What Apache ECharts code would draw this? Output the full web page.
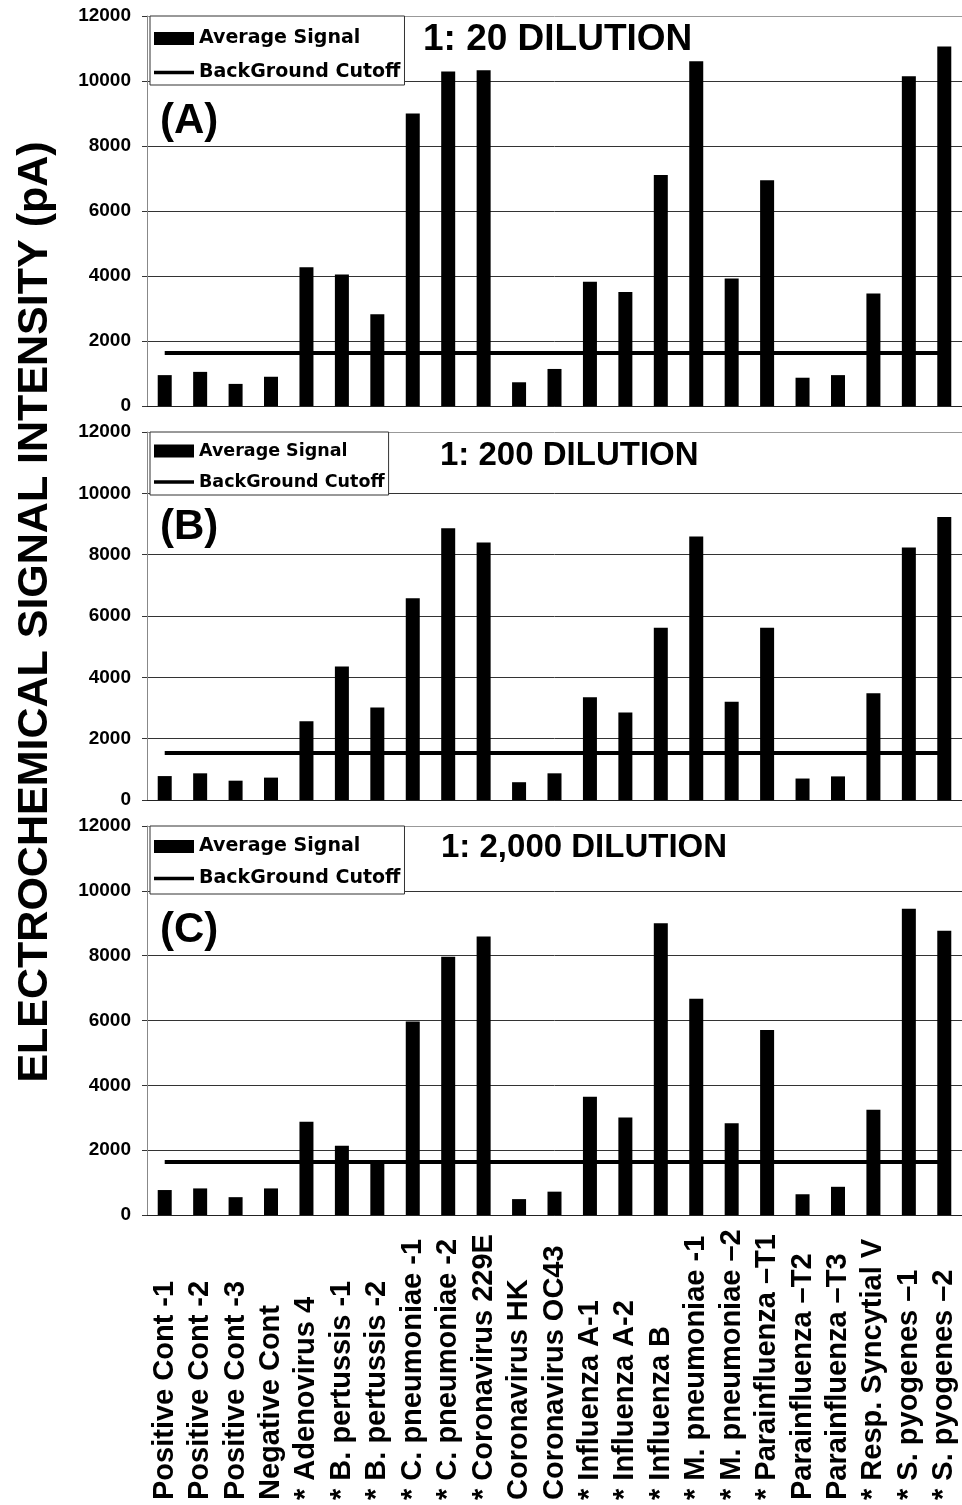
<!DOCTYPE html>
<html>
<head>
<meta charset="utf-8">
<title>Electrochemical signal by dilution</title>
<script src="https://cdn.jsdelivr.net/npm/echarts@6/dist/echarts.min.js"></script>
<style>
    html, body { margin: 0; padding: 0; background: #fff; }
    #chart { width: 962px; height: 1505px; }
</style>
</head>
<body>
<div id="chart"></div>
<script>
// 分类（样本名称）
const categories = [
    'Positive Cont -1', 'Positive Cont -2', 'Positive Cont -3', 'Negative Cont',
    '* Adenovirus 4', '* B. pertussis -1', '* B. pertussis -2',
    '* C. pneumoniae -1', '* C. pneumoniae -2', '* Coronavirus 229E',
    'Coronavirus HK', 'Coronavirus OC43',
    '* Influenza A-1', '* Influenza A-2', '* Influenza B',
    '* M. pneumoniae -1', '* M. pneumoniae \u20132',
    '* Parainfluenza \u2013T1', 'Parainfluenza \u2013T2', 'Parainfluenza \u2013T3',
    '* Resp. Syncytial V', '* S. pyogenes \u20131', '* S. pyogenes \u20132'
]

// 平均信号 (pA)
const signal20 = [950, 1050, 680, 900, 4270, 4050, 2820, 9000, 10290, 10330,
    730, 1140, 3820, 3510, 7110, 10610, 3920, 6950, 870, 950, 3460, 10150, 11060]
const signal200 = [780, 870, 630, 730, 2570, 4350, 3020, 6580, 8860, 8400,
    580, 870, 3350, 2850, 5620, 8590, 3200, 5620, 700, 770, 3480, 8230, 9230]
const signal2000 = [770, 820, 550, 820, 2880, 2140, 1620, 5970, 7970, 8590,
    490, 720, 3650, 3010, 9000, 6670, 2830, 5710, 640, 870, 3250, 9450, 8770]

// 背景阈值
const cutoffs = [1630, 1530, 1635]

const dilutions = ['1: 20 DILUTION', '1: 200 DILUTION', '1: 2,000 DILUTION']
const panelLetters = ['(A)', '(B)', '(C)']
const yMin = 0
const yMax = 12000
const yStep = 2000

const signals = [signal20, signal200, signal2000]

// 每个面板的位置
const panels = [
    { top: 16, height: 390, titleX: 423, titleY: 40, titleSize: 37, letterY: 121,
      legendFont: 19, legendPad: [13, 4, 3, 4], legendGap: 15 },
    { top: 432, height: 368, titleX: 440, titleY: 456, titleSize: 33, letterY: 527,
      legendFont: 17.5, legendPad: [10, 4, 4, 4], legendGap: 13 },
    { top: 826, height: 389, titleX: 441, titleY: 848, titleSize: 33, letterY: 930,
      legendFont: 19, legendPad: [11, 4, 6, 4], legendGap: 13 }
]

const fontArial = '"Liberation Sans", Arial, sans-serif'
const fontLegend = '"DejaVu Sans", Verdana, sans-serif'
// 图例中的线条图标（无圆点）
const lineIcon = 'path://M0,0H40V3.5H0Z'

const grid = []
const xAxis = []
const yAxis = []
const series = []
const legend = []
const graphic = []

panels.forEach((p, i) => {
    grid.push({ left: 147, top: p.top, width: 816, height: p.height })

    // 主 x 轴（刻度朝下）
    xAxis.push({
        type: 'category',
        gridIndex: i,
        data: categories,
        axisLine: { lineStyle: { color: '#222', width: 1 } },
        axisTick: { length: 9, lineStyle: { color: '#333' } },
        axisLabel: {
            show: i === 2,
            interval: 0,
            rotate: 90,
            align: 'left',
            margin: 285,
            color: '#000',
            fontFamily: fontArial,
            fontWeight: 'bold',
            fontSize: 29
        }
    })
    // 辅助 x 轴（刻度朝上，形成穿轴刻度）
    xAxis.push({
        type: 'category',
        gridIndex: i,
        position: 'bottom',
        offset: 0,
        data: categories,
        axisLine: { show: false },
        axisTick: { inside: true, length: 9, lineStyle: { color: '#333' } },
        axisLabel: { show: false },
        splitLine: { show: false }
    })

    yAxis.push({
        type: 'value',
        gridIndex: i,
        min: yMin,
        max: yMax,
        interval: yStep,
        axisLine: { show: true, lineStyle: { color: '#888', width: 1 } },
        axisTick: { show: true, length: 5, lineStyle: { color: '#333' } },
        axisLabel: {
            margin: 16,
            color: '#000',
            fontFamily: fontArial,
            fontWeight: 'bold',
            fontSize: 19,
            formatter: (v) => String(v)
        },
        splitLine: {
            show: true,
            lineStyle: { color: ['#222', '#333', '#333', '#333', '#333', '#333', '#999'], width: 1 }
        }
    })

    series.push({
        name: 'Average Signal',
        type: 'bar',
        xAxisIndex: i * 2,
        yAxisIndex: i,
        barWidth: 14,
        itemStyle: { color: '#000' },
        data: signals[i]
    })
    series.push({
        name: 'BackGround Cutoff',
        type: 'line',
        xAxisIndex: i * 2,
        yAxisIndex: i,
        symbol: 'none',
        lineStyle: { color: '#000', width: 4 },
        itemStyle: { color: '#000' },
        data: [[categories[0], cutoffs[i]], [categories[categories.length - 1], cutoffs[i]]]
    })

    legend.push({
        orient: 'vertical',
        left: 150,
        top: p.top,
        selectedMode: false,
        backgroundColor: '#fff',
        borderColor: '#333',
        borderWidth: 1,
        padding: p.legendPad,
        itemGap: p.legendGap,
        itemWidth: 40,
        itemHeight: 13,
        itemTextGap: 5,
        textStyle: {
            color: '#000',
            fontFamily: fontLegend,
            fontWeight: 'bold',
            fontSize: p.legendFont
        },
        data: [
            { name: 'Average Signal', icon: 'rect' },
            { name: 'BackGround Cutoff', icon: lineIcon }
        ]
    })

    graphic.push({
        type: 'text',
        x: p.titleX,
        y: p.titleY,
        z: 100,
        style: {
            text: dilutions[i],
            font: 'bold ' + p.titleSize + 'px ' + fontArial,
            fill: '#000',
            textAlign: 'left',
            textVerticalAlign: 'middle'
        }
    })
    graphic.push({
        type: 'text',
        x: 160,
        y: p.letterY,
        z: 100,
        style: {
            text: panelLetters[i],
            font: 'bold 42px ' + fontArial,
            fill: '#000',
            textAlign: 'left',
            textVerticalAlign: 'middle'
        }
    })
})

// 纵轴总标题
graphic.push({
    type: 'text',
    x: 35,
    y: 612,
    rotation: Math.PI / 2,
    z: 100,
    style: {
        text: 'ELECTROCHEMICAL SIGNAL INTENSITY (pA)',
        font: 'bold 43px ' + fontArial,
        fill: '#000',
        textAlign: 'center',
        textVerticalAlign: 'middle'
    }
})

const chart = echarts.init(document.getElementById('chart'), null, { renderer: 'canvas' })
chart.setOption({
    backgroundColor: '#fff',
    animation: false,
    grid,
    xAxis,
    yAxis,
    legend,
    series,
    graphic
})

window.addEventListener('resize', () => chart.resize())
</script>
</body>
</html>
